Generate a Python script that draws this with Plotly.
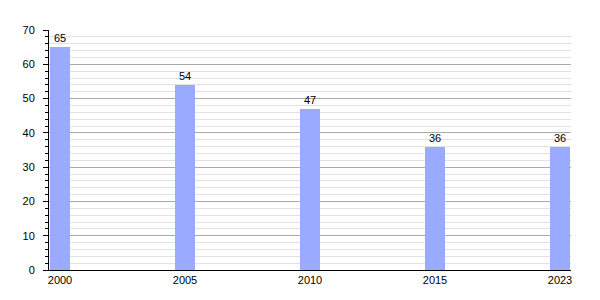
import plotly.graph_objects as go

years = ["2000", "2005", "2010", "2015", "2023"]
values = [65, 54, 47, 36, 36]
y_ticks = [0, 10, 20, 30, 40, 50, 60, 70]

fig = go.Figure()
fig.add_trace(go.Bar(
    x=years, y=values,
    marker=dict(color="#99aaff", line=dict(width=0)),
    width=0.16,
    text=[str(v) for v in values],
    textposition="outside",
    textfont=dict(size=11, color="black", family="Liberation Sans, Arial, sans-serif"),
    cliponaxis=False,
))

fig.update_layout(
    template="none",
    width=600, height=300,
    margin=dict(l=49, r=29, t=30, b=30),
    paper_bgcolor="white", plot_bgcolor="white",
    showlegend=False,
    bargap=0,
    font=dict(family="Liberation Sans, Arial, sans-serif", size=11, color="black"),
    xaxis=dict(
        type="category",
        range=[-0.088, 4.088],
        showline=True, linecolor="black", linewidth=1,
        ticks="", showgrid=False,
        tickfont=dict(size=11, color="black"),
    ),
    yaxis=dict(
        range=[0, 70],
        tickvals=y_ticks,
        ticks="outside", ticklen=5, tickcolor="black", tickwidth=1,
        showline=True, linecolor="black", linewidth=1,
        showgrid=True, gridcolor="#aaaaaa", gridwidth=1,
        zeroline=False,
        ticklabelstandoff=6,
        tickfont=dict(size=11, color="black"),
        minor=dict(dtick=2, ticks="outside", ticklen=3, tickcolor="black",
                   showgrid=True, gridcolor="#e2e2e2", gridwidth=1),
    ),
)

fig.write_html("out.html")
